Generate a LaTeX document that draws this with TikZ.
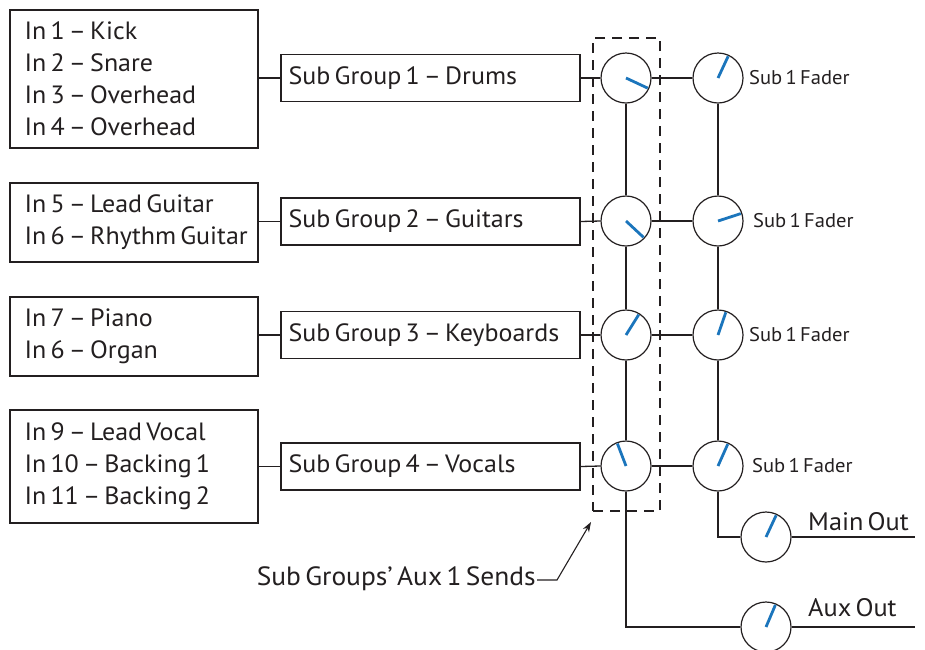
\documentclass[tikz,border=0pt]{standalone}
\usepackage{fontspec}
\setmainfont[FakeStretch=1.04,WordSpace=0.6]{PT Sans}
\usetikzlibrary{arrows.meta}
\definecolor{knobblue}{HTML}{1B75BC}
\definecolor{ink}{HTML}{231F20}
\begin{document}
\begin{tikzpicture}[x=1pt,y=-1pt,
  boxline/.style={draw=ink, line width=1.2pt, rectangle, inner sep=0pt},
  bigfont/.style={font=\fontsize{25}{32}\selectfont, text=ink},
  inbox/.style={boxline, minimum width=248pt},
  intext/.style={bigfont, anchor=west, inner sep=0pt, align=left},
  sgbox/.style={boxline, minimum width=299pt, minimum height=47pt},
  knob/.style={draw=ink, line width=1.2pt, circle, minimum size=50pt, inner sep=0pt},
  wire/.style={draw=ink, line width=1.3pt},
  ptr/.style={draw=knobblue, line width=2.8pt},
  sendbox/.style={draw=ink, line width=2.4pt, dash pattern=on 10pt off 7pt, rectangle, minimum width=67pt, minimum height=473pt, inner sep=0pt},
  faderlbl/.style={anchor=west, inner sep=0pt, font=\fontsize{19.8}{22}\selectfont, text=ink},
  outlbl/.style={anchor=base west, inner sep=0pt, font=\fontsize{25.3}{28}\selectfont, text=ink},
]
\useasboundingbox (0,0) rectangle (925,649);

% input boxes
\node[inbox, minimum height=138pt] (in1) at (134,79) {};
\node[inbox, minimum height=79pt] (in2) at (134,222.5) {};
\node[inbox, minimum height=79pt] (in3) at (134,336.5) {};
\node[inbox, minimum height=113pt] (in4) at (134,466.5) {};
\node[intext] (in1t) at ([xshift=15pt]in1.west) {In 1 – Kick\\In 2 – Snare\\In 3 – Overhead\\In 4 – Overhead};
\node[intext] (in2t) at ([xshift=15pt]in2.west) {In 5 – Lead Guitar\\In 6 – Rhythm Guitar};
\node[intext] (in3t) at ([xshift=15pt]in3.west) {In 7 – Piano\\In 6 – Organ};
\node[intext] (in4t) at ([xshift=15pt]in4.west) {In 9 – Lead Vocal\\In 10 – Backing 1\\In 11 – Backing 2};

% sub group boxes
\node[sgbox] (sg1) at (430.5,78) {};
\node[sgbox] (sg2) at (430.5,221.5) {};
\node[sgbox] (sg3) at (430.5,335) {};
\node[sgbox] (sg4) at (430.5,466.5) {};
\node[intext] (sg1t) at ([xshift=8pt]sg1.west) {Sub Group 1 – Drums};
\node[intext] (sg2t) at ([xshift=8pt]sg2.west) {Sub Group 2 – Guitars};
\node[intext] (sg3t) at ([xshift=8pt]sg3.west) {Sub Group 3 – Keyboards};
\node[intext] (sg4t) at ([xshift=8pt]sg4.west) {Sub Group 4 – Vocals};

% dashed send box
\node[sendbox] (dbox) at (626.5,274.5) {};

% aux knobs
\node[knob] (a1) at (626,78) {};
\node[knob] (a2) at (626,221) {};
\node[knob] (a3) at (626,335) {};
\node[knob] (a4) at (626,466) {};
% fader knobs
\node[knob] (f1) at (718,78) {};
\node[knob] (f2) at (718,221) {};
\node[knob] (f3) at (718,335) {};
\node[knob] (f4) at (718,466) {};
% outputs
\node[knob] (mo) at (766,537) {};
\node[knob] (ao) at (766,627) {};

% wires
\foreach \i in {1,2,3,4}{
  \draw[wire] (sg\i.west -| in\i.east) -- (sg\i.west);
  \draw[wire] (sg\i.east) -- (a\i.west);
  \draw[wire] (a\i.east) -- (f\i.west);
}
\draw[wire] (a1.south) -- (a2.north);
\draw[wire] (a2.south) -- (a3.north);
\draw[wire] (a3.south) -- (a4.north);
\draw[wire] (f1.south) -- (f2.north);
\draw[wire] (f2.south) -- (f3.north);
\draw[wire] (f3.south) -- (f4.north);
\draw[wire] (f4.south) |- (mo.west);
\draw[wire] (a4.south) |- (ao.west);
\coordinate (moend) at (915,537);
\coordinate (aoend) at (915,627);
\draw[wire] (mo.east) -- (moend);
\draw[wire] (ao.east) -- (aoend);

% pointers
\draw[ptr] (a1.center) -- ++(25:24);
\draw[ptr] (f1.center) -- ++(-65:24);
\draw[ptr] (a2.center) -- ++(43:24);
\draw[ptr] (f2.center) -- ++(-18:24);
\draw[ptr] (a3.center) -- ++(-58:24);
\draw[ptr] (f3.center) -- ++(-71:24);
\draw[ptr] (a4.center) -- ++(-111:24);
\draw[ptr] (f4.center) -- ++(-66:24);
\draw[ptr] (mo.center) -- ++(-65:24);
\draw[ptr] (ao.center) -- ++(-67:24);

% labels
\node[faderlbl] (fl1) at (749,78) {Sub 1 Fader};
\node[faderlbl] (fl2) at (753,221) {Sub 1 Fader};
\node[faderlbl] (fl3) at (749,335) {Sub 1 Fader};
\node[faderlbl] (fl4) at (752,466) {Sub 1 Fader};
\node[outlbl] (mol) at (808,530) {Main Out};
\node[outlbl] (aol) at (808,616) {Aux Out};

\node[anchor=base east, inner sep=1pt, font=\fontsize{26.4}{28}\selectfont, text=ink] (lbl) at (537,585) {Sub Groups’ Aux 1 Sends};
\coordinate (elb) at (557,580);
\coordinate (tip) at (591,522);
\draw[wire, line width=1.1pt, -{Stealth[length=10pt,width=7pt]}] (lbl.east |- elb) -- (elb) -- (tip);
\end{tikzpicture}
\end{document}
